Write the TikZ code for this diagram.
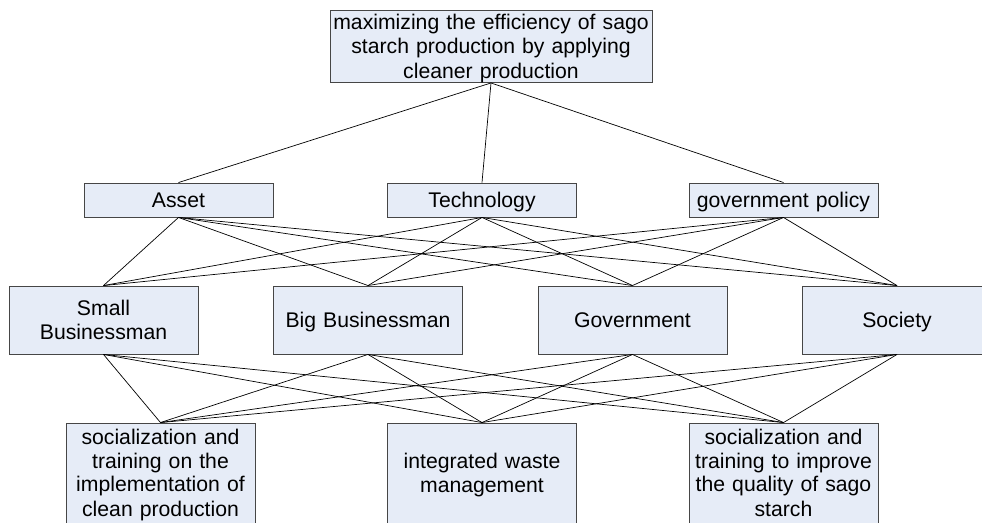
\documentclass[tikz,border=0pt]{standalone}
\usepackage{fontspec}
\setmainfont{Liberation Sans}
\usepackage{tikz}
\usetikzlibrary{positioning}
\definecolor{boxfill}{RGB}{230, 236, 247}
\definecolor{boxline}{RGB}{70, 70, 70}
% strut centred on the capital letters
\newcommand{\capstrut}{\rule[-4.2pt]{0pt}{23.6pt}}

\begin{document}
\begin{tikzpicture}[
  x=1pt, y=-1pt,
  every node/.style={font=\fontsize{21.2}{23.4}\selectfont, align=center, inner sep=0pt,
    execute at begin node=\capstrut, execute at end node=\capstrut},
  box/.style={draw=boxline, fill=boxfill, line width=0.9pt, minimum width=189pt, text width=187pt},
  goalbox/.style={box, minimum width=322pt, minimum height=69pt, text width=320pt},
  critbox/.style={box, minimum height=34pt},
  actorbox/.style={box, minimum height=68pt},
  optbox/.style={box, minimum height=100pt},
  link/.style={line width=0.7pt, black}
]
  \useasboundingbox (0,0) rectangle (982,522);

  % goal
  \node[goalbox] (goal) at (491, 46.5) {maximizing the efficiency of sago\\starch production by applying\\cleaner production};

  % criteria
  \node[critbox] (c1) at (178.5, 200) {Asset};
  \node[critbox] (c2) at (482, 200) {Technology};
  \node[critbox] (c3) at (783.5, 200) {government policy};

  % actors
  \node[actorbox] (a1) at (103.5, 320) {Small\\Businessman};
  \node[actorbox] (a2) at (368, 320) {Big Businessman};
  \node[actorbox] (a3) at (632.5, 320) {Government};
  \node[actorbox] (a4) at (897, 320) {Society};

  % alternatives
  \node[optbox] (o1) at (160.5, 473) {socialization and\\training on the\\implementation of\\clean production};
  \node[optbox] (o2) at (482, 473) {integrated waste\\management};
  \node[optbox] (o3) at (783.5, 473) {socialization and\\training to improve\\the quality of sago\\starch};

  % links between levels
  \foreach \c in {c1, c2, c3}
    \draw[link] (goal.south) -- (\c.north);
  \foreach \c in {c1, c2, c3}
    \foreach \a in {a1, a2, a3, a4}
      \draw[link] (\c.south) -- (\a.north);
  \foreach \a in {a1, a2, a3, a4}
    \foreach \o in {o1, o2, o3}
      \draw[link] (\a.south) -- (\o.north);
\end{tikzpicture}
\end{document}
